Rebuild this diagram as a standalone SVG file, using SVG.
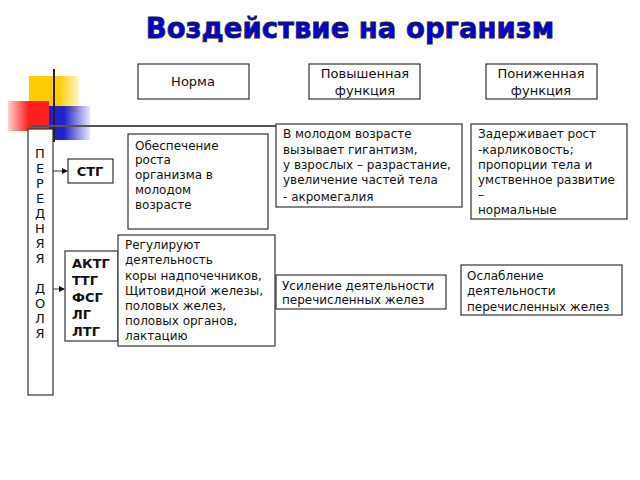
<svg xmlns="http://www.w3.org/2000/svg" width="640" height="480" viewBox="0 0 640 480">
<style>
.b{fill:#fff;stroke:#333;stroke-width:1.2}
.t{font-family:"DejaVu Sans",sans-serif;font-size:12px;fill:#111}
.c{text-anchor:middle}
.h{font-size:13px}
.bd{font-weight:bold;font-size:13px}
</style>
<defs>
<marker id="a" markerWidth="6" markerHeight="6" refX="5" refY="3" orient="auto"><path d="M0,0 L6,3 L0,6z" fill="#111"/></marker>
<linearGradient id="gy" x1="0" x2="1"><stop offset="0.6" stop-color="#ffcc00"/><stop offset="1" stop-color="#ffcc00" stop-opacity="0.2"/></linearGradient>
<linearGradient id="gr" x1="1" x2="0"><stop offset="0.5" stop-color="#ff2020"/><stop offset="1" stop-color="#ff2020" stop-opacity="0.2"/></linearGradient>
<linearGradient id="gb" x1="0" x2="1"><stop offset="0.5" stop-color="#2222cc"/><stop offset="1" stop-color="#2222cc" stop-opacity="0.1"/></linearGradient>
</defs>
<rect width="640" height="480" fill="#fff"/>
<text x="350" y="38" text-anchor="middle" font-family="DejaVu Sans,sans-serif" font-weight="bold" font-size="27.5" fill="#0000dd" stroke="#222" stroke-width="0.8">Воздействие на организм</text>
<g id="deco">
<rect x="29" y="76" width="50" height="36" fill="url(#gy)"/>
<rect x="38" y="106" width="52" height="34" fill="url(#gb)"/>
<rect x="8" y="101" width="41" height="30" fill="url(#gr)"/>
<line x1="54" y1="69" x2="54" y2="142" stroke="#222" stroke-width="2"/>
</g>
<g id="connectors" stroke="#333" fill="none">
<line x1="30" y1="126" x2="462" y2="126" stroke="#555" stroke-width="2"/>
<line x1="53" y1="171" x2="67" y2="171" marker-end="url(#a)"/>
<line x1="53" y1="289" x2="64" y2="289" marker-end="url(#a)"/>
</g>
<g id="norma"><rect class="b" x="138" y="64" width="111" height="35"/><text class="t c h" x="193" y="86">Норма</text></g>
<g id="povysh"><rect class="b" x="309" y="64" width="111" height="35"/><text class="t c h" x="365" y="78">Повышенная</text><text class="t c h" x="365" y="95">функция</text></g>
<g id="ponizh"><rect class="b" x="486" y="64" width="111" height="35"/><text class="t c h" x="541" y="78">Пониженная</text><text class="t c h" x="541" y="95">функция</text></g>
<g id="dolya"><rect class="b" x="28" y="129" width="25" height="266"/>
<g class="t c h"><text x="40" y="158">П</text><text x="40" y="173">Е</text><text x="40" y="188">Р</text><text x="40" y="203">Е</text><text x="40" y="218">Д</text><text x="40" y="233">Н</text><text x="40" y="248">Я</text><text x="40" y="263">Я</text><text x="40" y="293">Д</text><text x="40" y="308">О</text><text x="40" y="323">Л</text><text x="40" y="338">Я</text></g></g>
<g id="stg"><rect class="b" x="68" y="159" width="45" height="24"/><text class="t c bd" x="90" y="176">СТГ</text></g>
<g id="obesp"><rect class="b" x="128" y="134" width="140" height="95"/><text class="t" x="135" y="150">Обеспечение</text><text class="t" x="135" y="164">роста</text><text class="t" x="135" y="179">организма в</text><text class="t" x="135" y="194">молодом</text><text class="t" x="135" y="209">возрасте</text></g>
<g id="vmolod"><rect class="b" x="276" y="124" width="186" height="83"/><text class="t" x="283" y="138">В молодом возрасте</text><text class="t" x="283" y="154">вызывает гигантизм,</text><text class="t" x="283" y="169">у взрослых – разрастание,</text><text class="t" x="283" y="184">увеличение частей тела</text><text class="t" x="283" y="201">- акромегалия</text></g>
<g id="zader"><rect class="b" x="471" y="124" width="156" height="95"/><text class="t" x="478" y="138">Задерживает рост</text><text class="t" x="478" y="154">-карликовость;</text><text class="t" x="478" y="169">пропорции тела и</text><text class="t" x="478" y="184">умственное развитие</text><text class="t" x="478" y="199">–</text><text class="t" x="478" y="214">нормальные</text></g>
<g id="aktg"><rect class="b" x="65" y="251" width="53" height="90"/><text class="t bd" x="72" y="268">АКТГ</text><text class="t bd" x="72" y="285">ТТГ</text><text class="t bd" x="72" y="302">ФСГ</text><text class="t bd" x="72" y="319">ЛГ</text><text class="t bd" x="72" y="336">ЛТГ</text></g>
<g id="regul"><rect class="b" x="118" y="235" width="157" height="111"/><text class="t" x="125" y="249">Регулируют</text><text class="t" x="125" y="264">деятельность</text><text class="t" x="125" y="280">коры надпочечников,</text><text class="t" x="125" y="295">Щитовидной железы,</text><text class="t" x="125" y="310">половых желез,</text><text class="t" x="125" y="325">половых органов,</text><text class="t" x="125" y="340">лактацию</text></g>
<g id="usil"><rect class="b" x="276" y="275" width="170" height="34"/><text class="t" x="282" y="290">Усиление деятельности</text><text class="t" x="282" y="304">перечисленных желез</text></g>
<g id="oslab"><rect class="b" x="461" y="265" width="161" height="50"/><text class="t" x="467" y="280">Ослабление</text><text class="t" x="467" y="295">деятельности</text><text class="t" x="467" y="311">перечисленных желез</text></g>
</svg>
